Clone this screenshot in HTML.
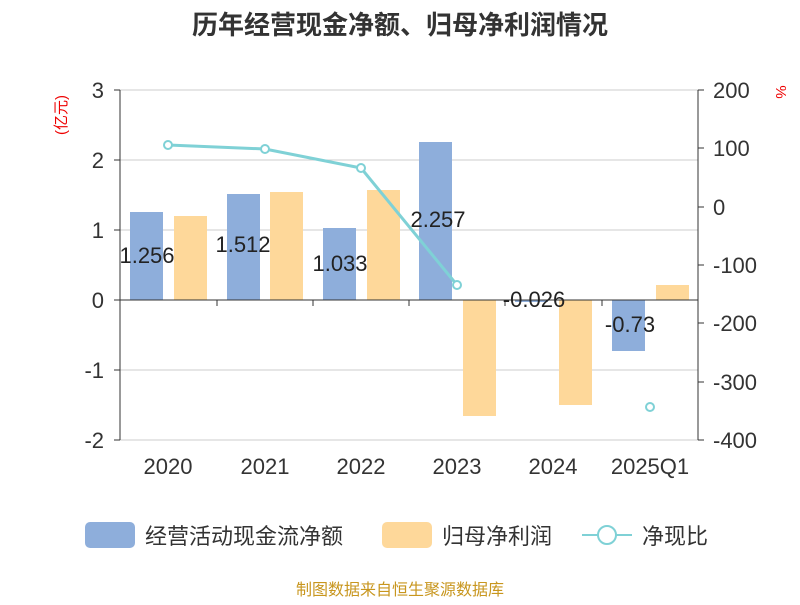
<!DOCTYPE html>
<html><head><meta charset="utf-8"><style>
body{margin:0;background:#fff}
svg text{font-family:"Liberation Sans","Noto Sans CJK SC",sans-serif}
</style></head><body>
<svg width="800" height="600" viewBox="0 0 800 600" xmlns="http://www.w3.org/2000/svg">
<text x="400" y="34" text-anchor="middle" font-size="26" font-weight="bold" fill="#333">历年经营现金净额、归母净利润情况</text>
<g stroke="#ccc" stroke-width="1">
<line x1="120" y1="90" x2="698" y2="90"/>
<line x1="120" y1="160" x2="698" y2="160"/>
<line x1="120" y1="230" x2="698" y2="230"/>
<line x1="120" y1="370" x2="698" y2="370"/>
<line x1="120" y1="440" x2="698" y2="440"/>
</g>
<g stroke="#333" stroke-width="1">
<line x1="120" y1="90" x2="120" y2="440"/>
<line x1="698" y1="90" x2="698" y2="440"/>
<line x1="114" y1="90" x2="120" y2="90"/><line x1="114" y1="160" x2="120" y2="160"/><line x1="114" y1="230" x2="120" y2="230"/><line x1="114" y1="300" x2="120" y2="300"/><line x1="114" y1="370" x2="120" y2="370"/><line x1="114" y1="440" x2="120" y2="440"/>
<line x1="698" y1="90" x2="704" y2="90"/><line x1="698" y1="148" x2="704" y2="148"/><line x1="698" y1="207" x2="704" y2="207"/><line x1="698" y1="265" x2="704" y2="265"/><line x1="698" y1="323" x2="704" y2="323"/><line x1="698" y1="382" x2="704" y2="382"/><line x1="698" y1="440" x2="704" y2="440"/>
</g>
<g font-size="22" fill="#333" text-anchor="end">
<text x="104" y="98">3</text><text x="104" y="168">2</text><text x="104" y="238">1</text><text x="104" y="308">0</text><text x="104" y="378">-1</text><text x="104" y="448">-2</text>
</g>
<g font-size="22" fill="#333" text-anchor="start">
<text x="713" y="98">200</text><text x="713" y="156">100</text><text x="713" y="215">0</text><text x="713" y="273">-100</text><text x="713" y="331">-200</text><text x="713" y="390">-300</text><text x="713" y="448">-400</text>
</g>
<text x="66" y="115" font-size="15" fill="#e00" transform="rotate(-90 66 115)" text-anchor="middle">(亿元)</text>
<text x="776" y="92" font-size="15" fill="#e00" transform="rotate(90 776 92)" text-anchor="middle">%</text>
<g fill="#8eaedb">
<rect x="130" y="212" width="33" height="88"/>
<rect x="227" y="194" width="33" height="106"/>
<rect x="323" y="228" width="33" height="72"/>
<rect x="419" y="142" width="33" height="158"/>
<rect x="515" y="300" width="33" height="2"/>
<rect x="612" y="300" width="33" height="51"/>
</g>
<g fill="#fed89a">
<rect x="174" y="216" width="33" height="84"/>
<rect x="270" y="192" width="33" height="108"/>
<rect x="367" y="190" width="33" height="110"/>
<rect x="463" y="300" width="33" height="116"/>
<rect x="559" y="300" width="33" height="105"/>
<rect x="656" y="285" width="33" height="15"/>
</g>
<line x1="120" y1="300" x2="698" y2="300" stroke="#333"/>
<g stroke="#333"><line x1="217" y1="300" x2="217" y2="306"/><line x1="313" y1="300" x2="313" y2="306"/><line x1="409" y1="300" x2="409" y2="306"/><line x1="505" y1="300" x2="505" y2="306"/><line x1="602" y1="300" x2="602" y2="306"/></g>
<polyline points="168,145 265,149 361,168 457,285" fill="none" stroke="#7fd1d6" stroke-width="3"/>
<g fill="#fff" stroke="#7fd1d6" stroke-width="2">
<circle cx="168" cy="145" r="4"/><circle cx="265" cy="149" r="4"/><circle cx="361" cy="168" r="4"/><circle cx="457" cy="285" r="4"/><circle cx="650" cy="407" r="4"/>
</g>
<g font-size="22" fill="#222" text-anchor="middle">
<text x="147" y="263">1.256</text><text x="243" y="252">1.512</text><text x="340" y="271">1.033</text><text x="438" y="227">2.257</text><text x="534" y="307">-0.026</text><text x="630" y="332">-0.73</text>
</g>
<g font-size="22" fill="#333" text-anchor="middle">
<text x="168" y="474">2020</text><text x="265" y="474">2021</text><text x="361" y="474">2022</text><text x="457" y="474">2023</text><text x="553" y="474">2024</text><text x="650" y="474">2025Q1</text>
</g>
<rect x="85" y="522" width="50" height="26" rx="5" fill="#8eaedb"/>
<text x="145" y="544" font-size="22" fill="#333">经营活动现金流净额</text>
<rect x="382" y="522" width="50" height="26" rx="5" fill="#fed89a"/>
<text x="442" y="544" font-size="22" fill="#333">归母净利润</text>
<line x1="582" y1="535" x2="632" y2="535" stroke="#7fd1d6" stroke-width="2"/>
<circle cx="607" cy="535" r="9" fill="#fff" stroke="#7fd1d6" stroke-width="2"/>
<text x="642" y="544" font-size="22" fill="#333">净现比</text>
<text x="400" y="595" text-anchor="middle" font-size="16" fill="#c8961e">制图数据来自恒生聚源数据库</text>
</svg>
</body></html>
